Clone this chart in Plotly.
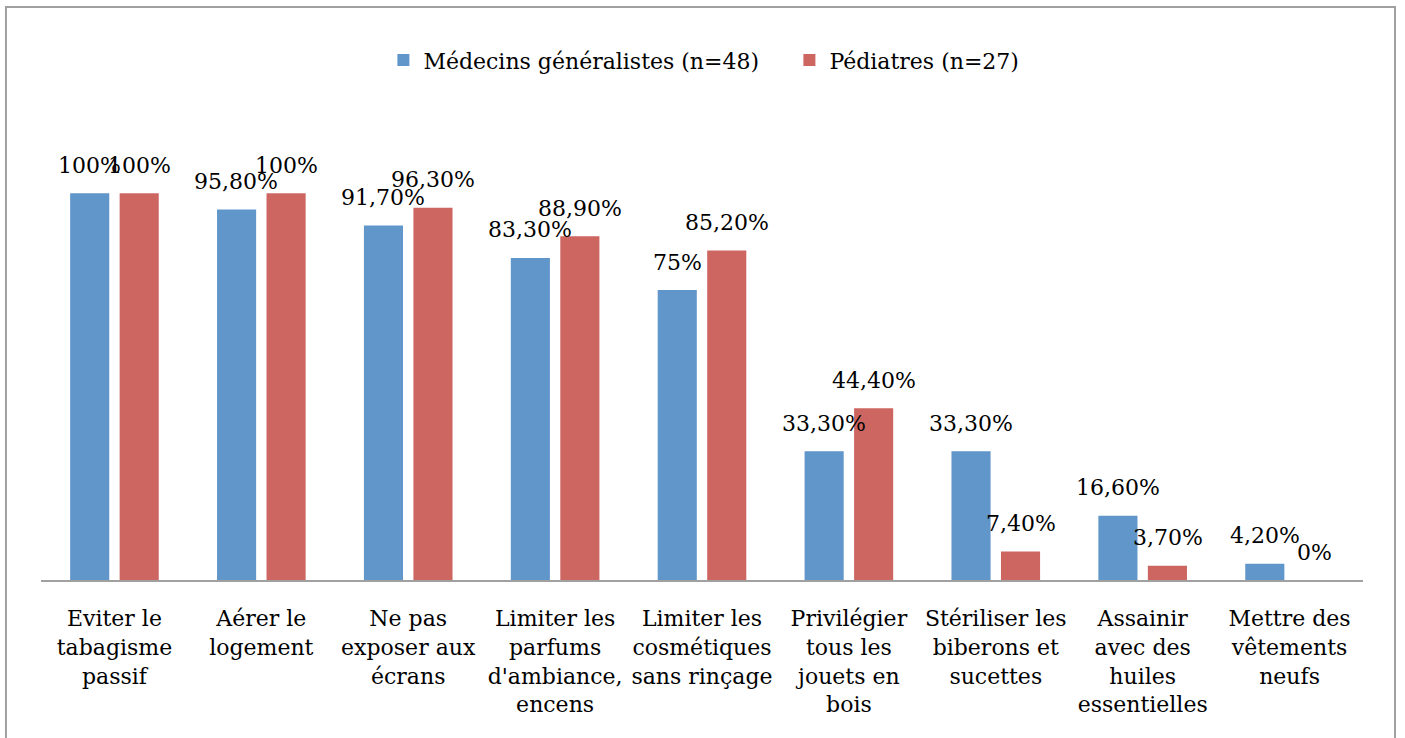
import plotly.graph_objects as go

categories = [
    "Eviter le<br>tabagisme<br>passif",
    "Aérer le<br>logement",
    "Ne pas<br>exposer aux<br>écrans",
    "Limiter les<br>parfums<br>d'ambiance,<br>encens",
    "Limiter les<br>cosmétiques<br>sans rinçage",
    "Privilégier<br>tous les<br>jouets en<br>bois",
    "Stériliser les<br>biberons et<br>sucettes",
    "Assainir<br>avec des<br>huiles<br>essentielles",
    "Mettre des<br>vêtements<br>neufs",
]
generalistes = [1.0, 0.958, 0.917, 0.833, 0.75, 0.333, 0.333, 0.166, 0.042]
pediatres = [1.0, 1.0, 0.963, 0.889, 0.852, 0.444, 0.074, 0.037, 0.0]
labels_gen = ["100%", "95,80%", "91,70%", "83,30%", "75%", "33,30%", "33,30%", "16,60%", "4,20%"]
labels_ped = ["100%", "100%", "96,30%", "88,90%", "85,20%", "44,40%", "7,40%", "3,70%", "0%"]

FONT = "DejaVu Serif"
BLUE = "#6196CA"
RED = "#CD6661"

fig = go.Figure()
fig.add_trace(go.Bar(x=categories, y=generalistes, name="Médecins généralistes (n=48)",
                     marker=dict(color=BLUE, line=dict(width=0))))
fig.add_trace(go.Bar(x=categories, y=pediatres, name="Pédiatres (n=27)",
                     marker=dict(color=RED, line=dict(width=0))))

# data labels above each bar
for cat, v, t in zip(categories, generalistes, labels_gen):
    fig.add_annotation(x=cat, y=v, text=t, showarrow=False, xshift=-25, yshift=28,
                       yanchor="middle", font=dict(family=FONT, size=22, color="black"))
for cat, v, t in zip(categories, pediatres, labels_ped):
    fig.add_annotation(x=cat, y=v, text=t, showarrow=False, xshift=25, yshift=28,
                       yanchor="middle", font=dict(family=FONT, size=22, color="black"))

# outer chart border
fig.add_shape(type="rect", xref="paper", yref="paper",
              x0=-0.0265, x1=1.0242, y0=-0.5, y1=1.2349,
              line=dict(color="#A0A0A0", width=2), fillcolor="rgba(0,0,0,0)", layer="below")

fig.update_layout(
    width=1405,
    height=738,
    paper_bgcolor="white",
    plot_bgcolor="white",
    barmode="group",
    bargap=0.326,
    bargroupgap=0.21,
    margin=dict(l=41, r=42, t=116, b=158, autoexpand=False),
    font=dict(family=FONT, size=22, color="black"),
    showlegend=True,
    legend=dict(orientation="h", x=0.259, xanchor="left", y=1.12, yanchor="middle",
                font=dict(family=FONT, size=22), itemwidth=30, entrywidth=361,
                bgcolor="rgba(0,0,0,0)"),
    xaxis=dict(showline=True, linecolor="#A0A0A0", linewidth=2, ticks="",
               tickfont=dict(family=FONT, size=22), ticklabelstandoff=18,
               showgrid=False, zeroline=False, automargin=False),
    yaxis=dict(range=[0, 1.2], visible=False, showgrid=False, zeroline=False),
)

fig.write_html("out.html", config={"displayModeBar": False},
               post_script="document.body.style.margin='0';")
